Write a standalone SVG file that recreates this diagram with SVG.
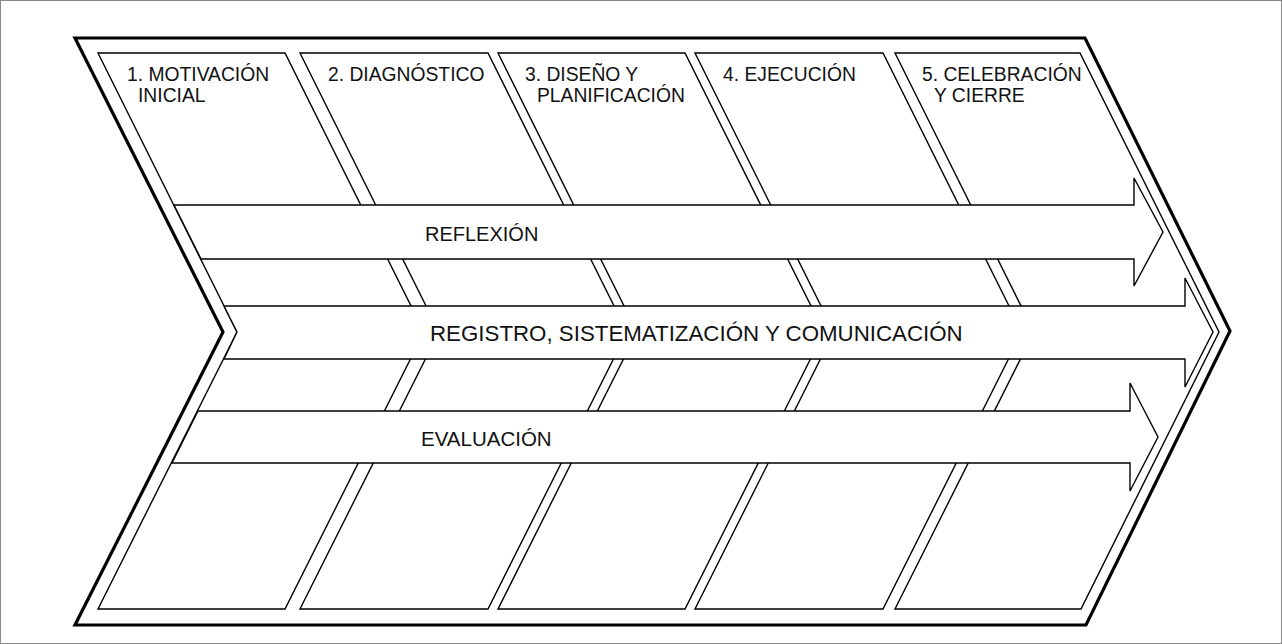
<svg xmlns="http://www.w3.org/2000/svg" width="1282" height="644" viewBox="0 0 1282 644">
  <style>
    .frame { fill: #ffffff; stroke: #8a8a8a; stroke-width: 1; }
    .outer { fill: #ffffff; stroke: #000000; stroke-width: 3.2; stroke-linejoin: miter; }
    .col { fill: #ffffff; stroke: #000000; stroke-width: 1.4; stroke-linejoin: miter; }
    .arrow { fill: #ffffff; stroke: #000000; stroke-width: 1.4; stroke-linejoin: miter; }
    .lbl { font-family: "Liberation Sans", Arial, Helvetica, sans-serif; font-size: 19.3px; fill: #111111; }
    .albl { font-family: "Liberation Sans", Arial, Helvetica, sans-serif; font-size: 20.5px; fill: #111111; }
  </style>
  <rect class="frame" x="0.5" y="0.5" width="1281" height="643"/>
  <g id="outline">
    <polygon class="outer" points="75,38 1085,38 1230,331 1086,625 75,625 223,332"/>
  </g>
  <g id="stage1">
    <polygon class="col" points="98,53 285,53 424,332 285,609 98,609 237,332"/>
    <text class="lbl" x="127" y="80.5">1. MOTIVACIÓN</text>
    <text class="lbl" x="138" y="101.5">INICIAL</text>
  </g>
  <g id="stage2">
    <polygon class="col" points="300,53 488,53 627,332 488,609 300,609 439,332"/>
    <text class="lbl" x="328" y="80.5">2. DIAGNÓSTICO</text>
  </g>
  <g id="stage3">
    <polygon class="col" points="498,53 685,53 824,332 685,609 498,609 637,332"/>
    <text class="lbl" x="525" y="80.5">3. DISEÑO Y</text>
    <text class="lbl" x="537" y="101.5">PLANIFICACIÓN</text>
  </g>
  <g id="stage4">
    <polygon class="col" points="695,53 883,53 1022,332 883,609 695,609 834,332"/>
    <text class="lbl" x="723" y="80.5">4. EJECUCIÓN</text>
  </g>
  <g id="stage5">
    <polygon class="col" points="895,53 1080,53 1219,332 1081,609 895,609 1034,332"/>
    <text class="lbl" x="922" y="80.5">5. CELEBRACIÓN</text>
    <text class="lbl" x="934" y="101.5">Y CIERRE</text>
  </g>
  <g id="reflexion">
    <polygon class="arrow" points="174,205 1134,205 1134,178 1163,232 1134,286 1134,259 201,259"/>
    <text class="albl" x="425" y="241" style="font-size:20px">REFLEXIÓN</text>
  </g>
  <g id="registro">
    <polygon class="arrow" points="224,306 1185,306 1185,278 1213,332 1185,387 1185,359 224,359 237,332"/>
    <text class="albl" x="430" y="341" style="font-size:22.3px">REGISTRO, SISTEMATIZACIÓN Y COMUNICACIÓN</text>
  </g>
  <g id="evaluacion">
    <polygon class="arrow" points="198,411 1130,411 1130,383 1158,437 1130,491 1130,463 172,463"/>
    <text class="albl" x="421" y="445.5">EVALUACIÓN</text>
  </g>
</svg>
